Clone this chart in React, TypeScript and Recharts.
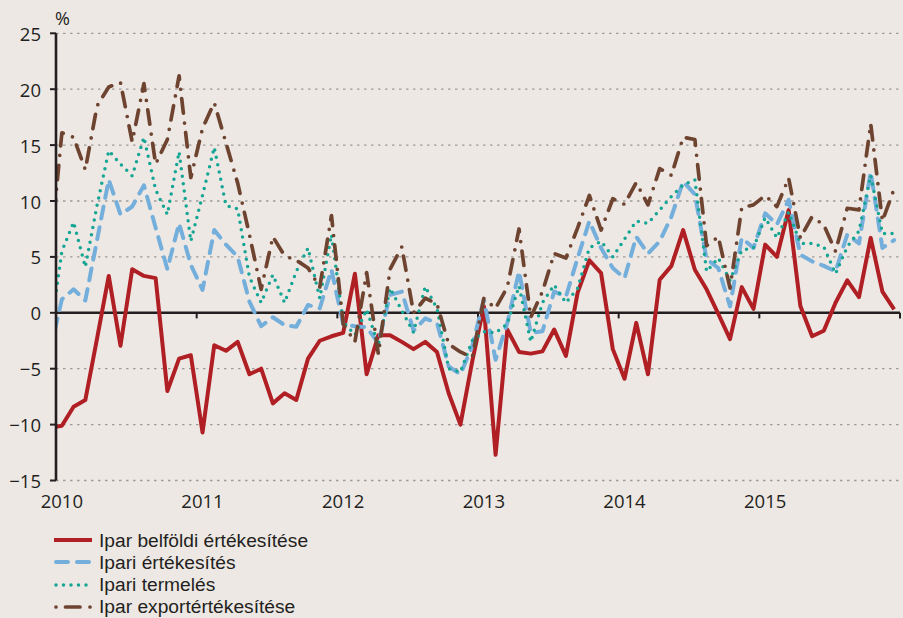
import { CartesianGrid, Legend, Line, LineChart, ReferenceLine, XAxis, YAxis } from "recharts";

// havi adatok 2009. dec. – 2015. dec., az első (decemberi) pont a tengelyen kívül esik
const years = ["2010", "2011", "2012", "2013", "2014", "2015"];
const yTicks = [-15, -10, -5, 0, 5, 10, 15, 20, 25];

const belfoldi = [
  -10.3,
  -10.1, -8.4, -7.8, -2.3, 3.3, -2.95, 3.9, 3.3, 3.1, -7.0, -4.1, -3.8,
  -10.7, -2.9, -3.4, -2.6, -5.5, -5.0, -8.1, -7.2, -7.8, -4.1, -2.5, -2.1,
  -1.8, 3.5, -5.5, -2.0, -2.0, -2.6, -3.25, -2.6, -3.5, -7.2, -10.0, -4.4,
  0.6, -12.7, -1.5, -3.5, -3.65, -3.45, -1.5, -3.85, 1.8, 4.7, 3.55, -3.25,
  -5.9, -0.9, -5.5, 2.95, 4.2, 7.4, 3.85, 2.1, -0.1, -2.35, 2.3, 0.35,
  6.1, 5.0, 9.2, 0.6, -2.1, -1.6, 0.9, 2.9, 1.4, 6.7, 1.9, 0.3,
];

const ertekesites = [
  -3.4,
  1.2, 2.1, 1.1, 6.5, 11.9, 8.8, 9.5, 11.4, 7.6, 3.9, 8.0, 4.3,
  2.05, 7.4, 6.1, 5.0, 1.0, -1.2, -0.4, -1.1, -1.25, 0.7, 0.4, 3.85,
  -1.0, -1.2, -1.3, -2.7, 1.6, 1.9, -1.6, -0.5, -0.9, -4.8, -5.5, -3.0,
  1.2, -4.2, -0.9, 3.7, -1.8, -1.65, 1.9, 1.45, 4.9, 8.2, 5.8, 4.0,
  3.1, 6.8, 5.3, 6.4, 8.6, 11.75, 10.6, 4.8, 4.0, 0.57, 6.7, 5.8,
  8.9, 7.9, 10.1, 5.2, 4.6, 4.2, 3.7, 7.0, 6.2, 12.6, 5.8, 6.5,
];

const termeles = [
  -2.0,
  5.5, 8.1, 4.1, 9.6, 14.5, 13.3, 12.25, 15.7, 11.0, 8.8, 14.4, 6.4,
  10.5, 14.8, 9.6, 9.3, 3.2, 0.9, 3.4, 0.9, 3.7, 5.8, 1.3, 7.0,
  -0.8, -2.0, 0.3, -2.9, 2.2, 0.2, -1.75, 2.35, 0.4, -5.0, -5.3, -2.5,
  -1.7, -1.8, -1.0, 2.4, -2.6, 0.9, 2.5, 0.9, 2.2, 5.8, 6.4, 5.0,
  6.6, 8.2, 8.0, 9.2, 10.4, 11.45, 11.9, 3.7, 4.9, 2.9, 5.6, 5.8,
  8.5, 6.7, 9.0, 6.2, 6.2, 5.9, 3.5, 5.9, 7.3, 12.3, 7.1, 7.1,
];

const exportErt = [
  5.0,
  16.1, 15.7, 12.8, 18.5, 20.2, 20.6, 15.3, 20.5, 13.3, 15.5, 21.2, 12.1,
  16.5, 18.8, 15.2, 11.6, 7.0, 2.1, 6.8, 5.1, 4.7, 4.0, 2.3, 8.7,
  -1.0, -2.6, 3.6, -3.7, 3.9, 5.9, 0.0, 1.3, 0.8, -2.8, -3.5, -4.0,
  1.3, 0.4, 2.3, 7.5, -0.4, 1.9, 5.3, 4.9, 7.6, 10.5, 7.4, 10.2,
  9.7, 11.65, 9.65, 12.9, 12.3, 15.7, 15.5, 6.0, 6.8, 2.2, 9.4, 9.65,
  10.5, 9.5, 12.05, 6.7, 8.6, 7.85, 5.5, 9.35, 9.2, 16.9, 8.2, 11.1,
];

const BG = "#ede8e4";
const INK = "#231f20";
const FONT = "'Open Sans', Lato, sans-serif";
const LEGEND_FONT = "'Liberation Sans', Arial, sans-serif";

const series = [
  { key: "belfoldi", name: "Ipar belföldi értékesítése", color: "#b01f24", width: 4, dash: undefined, cap: "butt" },
  { key: "ertekesites", name: "Ipari értékesítés", color: "#74afdc", width: 4, dash: "12 9", cap: "round" },
  { key: "termeles", name: "Ipari termelés", color: "#15a595", width: 3.5, dash: "0 7.5", cap: "round" },
  { key: "exportErt", name: "Ipar exportértékesítése", color: "#6e4431", width: 3.7, dash: "0 9.5 14.5 10", cap: "round" },
];

const data = belfoldi.map((v, i) => ({
  m: i,
  belfoldi: v,
  ertekesites: ertekesites[i],
  termeles: termeles[i],
  exportErt: exportErt[i],
}));

const yearTicks = years.map((_, i) => 1 + 12 * i);
const yearBounds = years.map((_, i) => 12.5 + 12 * i);

const fmtY = (v: number) => (v < 0 ? "\u2212" + Math.abs(v) : String(v));

function LegendBox() {
  return (
    <div style={{ fontFamily: LEGEND_FONT, fontSize: 19.2, color: INK, lineHeight: 1 }}>
      {series.map((s) => (
        <div key={s.key} style={{ display: "flex", alignItems: "center", height: 22.25 }}>
          <svg width={40} height={10} style={{ marginRight: 5 }}>
            <line
              x1={s.cap === "round" ? 2 : 0}
              x2={38}
              y1={5}
              y2={5}
              stroke={s.color}
              strokeWidth={s.width}
              strokeDasharray={s.dash}
              strokeLinecap={s.cap as any}
            />
          </svg>
          <span>{s.name}</span>
        </div>
      ))}
    </div>
  );
}

export default function App() {
  return (
    <div style={{ position: "absolute", left: 0, top: 0, width: 903, height: 618, background: BG }}>
      <LineChart
        width={903}
        height={618}
        data={data}
        margin={{ top: 33.3, right: 3, left: 6, bottom: 107.5 }}
      >
        <CartesianGrid horizontal vertical={false} stroke="#9e9a98" strokeDasharray="2.5 4.5" strokeWidth={1.3} />
        <XAxis
          dataKey="m"
          type="number"
          domain={[0.5, 72.5]}
          allowDataOverflow
          ticks={yearTicks}
          tickFormatter={(m: number) => years[(m - 1) / 12]}
          axisLine={false}
          tickLine={false}
          tickSize={6}
          tickMargin={8}
          height={30}
          tick={{ fill: INK, fontSize: 18.5, fontFamily: FONT }}
        />
        <YAxis
          domain={[-15, 25]}
          ticks={yTicks}
          allowDataOverflow
          width={50}
          tickFormatter={fmtY}
          axisLine={{ stroke: INK, strokeWidth: 2.6 }}
          tickLine={{ stroke: INK, strokeWidth: 2 }}
          tickSize={6}
          tickMargin={9}
          tick={{ fill: INK, fontSize: 18.5, fontFamily: FONT, dy: 1 }}
          label={(p: any) => (
            <text x={p.viewBox.x + p.viewBox.width - 1} y={p.viewBox.y - 8.5} fill={INK} fontSize={18} fontFamily={FONT}>
              %
            </text>
          )}
        />
        <ReferenceLine y={0} stroke={INK} strokeWidth={2.6} />
        {yearBounds.map((b) => (
          <ReferenceLine
            key={b}
            segment={[{ x: b, y: 0 }, { x: b, y: -0.5 }]}
            stroke={INK}
            strokeWidth={2}
          />
        ))}
        {series.map((s) => (
          <Line
            key={s.key}
            type="linear"
            dataKey={s.key}
            name={s.name}
            stroke={s.color}
            strokeWidth={s.width}
            strokeDasharray={s.dash}
            strokeLinecap={s.cap as any}
            strokeLinejoin="round"
            dot={false}
            activeDot={false}
            isAnimationActive={false}
          />
        ))}
        <Legend
          layout="vertical"
          align="center"
          verticalAlign="middle"
          content={() => <LegendBox />}
          wrapperStyle={{ left: 54, top: 529, width: 360 }}
        />
      </LineChart>
    </div>
  );
}
